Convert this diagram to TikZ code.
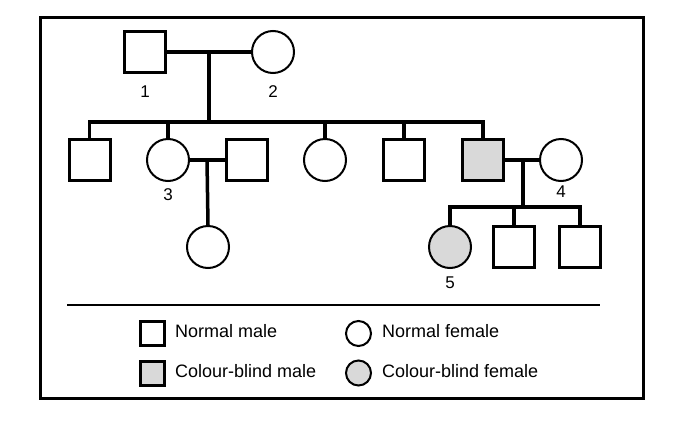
\documentclass[tikz,border=0pt]{standalone}
\usepackage{fontspec}
\setmainfont{Liberation Sans}
\definecolor{cbgrey}{RGB}{217,217,217}
\begin{document}
\begin{tikzpicture}[x=1pt,y=-1pt,
  male/.style={rectangle, draw, line width=3pt, minimum size=41pt, inner sep=0pt},
  female/.style={circle, draw, line width=2pt, minimum size=42pt, inner sep=0pt},
  lmale/.style={rectangle, draw, line width=3pt, minimum size=24pt, inner sep=0pt},
  lfemale/.style={circle, draw, line width=2pt, minimum size=25pt, inner sep=0pt},
  cb/.style={fill=cbgrey},
  link/.style={line width=3.5pt},
  num/.style={font=\fontsize{17}{19}\selectfont, inner sep=0pt},
  legtext/.style={font=\fontsize{18}{20}\selectfont, anchor=base west, inner sep=0pt}]
\useasboundingbox (0,0) rectangle (678,426);
\draw[line width=3pt] (40,17) rectangle (643,398);

% Generation I
\node[male] (p1) at (145,52) {};
\node[female] (p2) at (273,52) {};
\node[num] (l1) at (145,92) {1};
\node[num] (l2) at (273,92) {2};
\coordinate (m12) at (209,52);
\coordinate (s12) at (209,122);
\coordinate (sL) at (89.5,122);
\coordinate (sR) at (483,122);
\draw[link] (p1) -- (p2);
\draw[link] (m12) -- (s12);

% Generation II
\node[male] (a) at (89.5,160) {};
\node[female] (b) at (168,160) {};
\node[male] (c) at (247,160) {};
\node[female] (d) at (325,160) {};
\node[male] (e) at (404,160) {};
\node[male,cb] (f) at (483,160) {};
\node[female] (g) at (561,160) {};
\node[num] (l3) at (168,195) {3};
\node[num] (l4) at (561,192) {4};
\draw[link] (sL |- a.north) -- (sL) -- (sR) -- (f.north);
\draw[link] (b.north) -- (b.north |- sL);
\draw[link] (d.north) -- (d.north |- sL);
\draw[link] (e.north) -- (e.north |- sL);

% Marriages in gen II
\coordinate (mbc) at (207,160);
\coordinate (mfg) at (523,160);
\coordinate (sfg) at (523,207);
\draw[link] (b) -- (c);
\draw[link] (f) -- (g);

% Generation III
\node[female] (h) at (208,247) {};
\node[female,cb] (i) at (450,247) {};
\node[male] (j) at (514,247) {};
\node[male] (k) at (580,247) {};
\node[num] (l5) at (450,283) {5};
\draw[link] (mbc) -- (h.north);
\draw[link] (mfg) -- (sfg);
\draw[link] (i.north) -- (i.north |- sfg) -- (k.north |- sfg) -- (k.north);
\draw[link] (j.north) -- (j.north |- sfg);

% Legend
\coordinate (dl) at (67,305);
\coordinate (dr) at (600,305);
\draw[line width=2pt] (dl) -- (dr);
\node[lmale] (lm) at (152.5,333.5) {};
\node[lmale,cb] (lcm) at (152.5,373.5) {};
\node[lfemale] (lf) at (358.5,333.5) {};
\node[lfemale,cb] (lcf) at (358.5,373) {};
\node[legtext] (tm) at (175,337) {Normal male};
\node[legtext] (tcm) at (175,377) {Colour-blind male};
\node[legtext] (tf) at (382,337) {Normal female};
\node[legtext] (tcf) at (382,377) {Colour-blind female};
\end{tikzpicture}
\end{document}
